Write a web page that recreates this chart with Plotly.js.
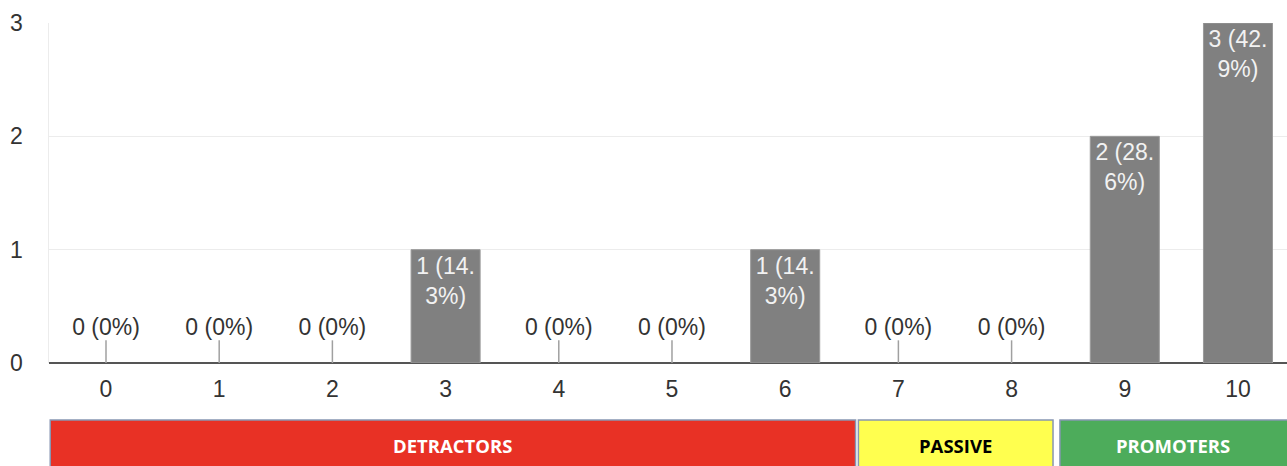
<!DOCTYPE html>
<html><head><meta charset="utf-8">
<script src="https://cdn.plot.ly/plotly-3.0.1.min.js"></script>
<style>html,body{margin:0;padding:0;background:#fff;}#chart{width:1287px;height:466px;}</style>
</head><body><div id="chart"></div>
<script>
const categories = ['0','1','2','3','4','5','6','7','8','9','10'];
const counts = [0,0,0,1,0,0,1,0,0,2,3];
const labels = ['0 (0%)','0 (0%)','0 (0%)','1 (14.<br>3%)','0 (0%)','0 (0%)','1 (14.<br>3%)','0 (0%)','0 (0%)','2 (28.<br>6%)','3 (42.<br>9%)'];
const groupNames = ['DETRACTORS','PASSIVE','PROMOTERS'];
const groupColors = ['#e83125','#ffff4f','#4dac5b'];
const groupTextColors = ['#ffffff','#000000','#ffffff'];

const xi = categories.map((c,i)=>i);
const nz = xi.filter(i=>counts[i]>0);
const z = xi.filter(i=>counts[i]===0);
const FONT = 'Liberation Sans, Arial, sans-serif';

const bars = {
  type:'bar', x:nz, y:nz.map(i=>counts[i]), text:nz.map(i=>labels[i]),
  textposition:'inside', insidetextanchor:'end', constraintext:'none',
  textfont:{family:FONT, size:23, color:'#f2f2f2'},
  marker:{color:'#808080', line:{color:'#9a9a9a', width:1}}, width:0.61,
  hoverinfo:'none', cliponaxis:false
};
const zeroLines = {
  type:'scatter', mode:'lines',
  x:[].concat(...z.map(i=>[i,i,null])), y:[].concat(...z.map(i=>[0,0.2,null])),
  line:{color:'#a0a0a0', width:1.5}, hoverinfo:'none'
};
const zeroText = {
  type:'scatter', mode:'text', x:z, y:z.map(()=>0.3), text:z.map(i=>labels[i]),
  textfont:{family:FONT, size:23, color:'#333'},
  hoverinfo:'none', cliponaxis:false
};

// band extents in paper coords (layout)
const bandX = [[0.001,0.6515],[0.6538,0.811],[0.8166,1.01]];
const shapes = [], annotations = [];
groupNames.forEach((g,k)=>{
  shapes.push({type:'rect', xref:'paper', yref:'paper', x0:bandX[k][0], x1:bandX[k][1], y0:-0.325, y1:-0.168,
    fillcolor:groupColors[k], line:{color:'#8796b3', width:1.5}, layer:'above'});
  annotations.push({xref:'paper', yref:'paper', xanchor:'center', yanchor:'middle',
    x:(bandX[k][0]+Math.min(bandX[k][1],1.0))/2, y:-0.244,
    text:'<b>'+g+'</b>', showarrow:false, font:{family:'Open Sans, sans-serif', size:18.5, color:groupTextColors[k]}});
});

const layout = {
  width:1287, height:466, margin:{l:49, r:0, t:23, b:103},
  paper_bgcolor:'#fff', plot_bgcolor:'#fff', showlegend:false,
  xaxis:{range:[-0.5035,10.433], tickvals:xi, ticktext:categories, showgrid:false, zeroline:false,
    ticks:'outside', ticklen:5, tickcolor:'rgba(0,0,0,0)',
    tickfont:{family:FONT, size:23, color:'#333'},
    showline:false, fixedrange:true},
  yaxis:{range:[0,3], tickvals:[0,1,2,3], showgrid:true, gridcolor:'#ececec', gridwidth:1.5,
    zeroline:true, zerolinecolor:'#555', zerolinewidth:2,
    showline:true, linecolor:'#ececec', linewidth:1.5,
    ticks:'outside', ticklen:20, tickcolor:'rgba(0,0,0,0)',
    tickfont:{family:FONT, size:23, color:'#333'}, fixedrange:true},
  shapes:shapes, annotations:annotations, bargap:0.39
};
Plotly.newPlot('chart',[zeroLines,bars,zeroText],layout,{displayModeBar:false, staticPlot:true});
</script></body></html>
